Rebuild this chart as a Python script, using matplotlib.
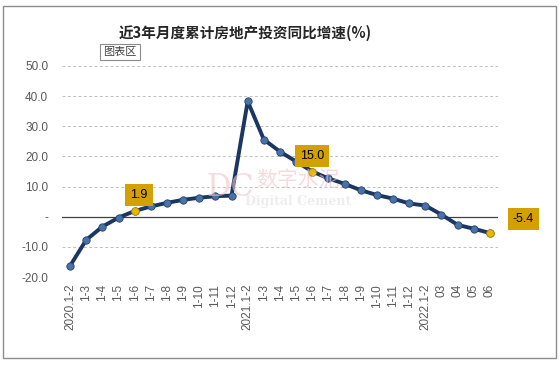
import matplotlib
matplotlib.use('Agg')
import matplotlib.pyplot as plt
from matplotlib.patches import Rectangle

plt.rcParams['font.family'] = ['Liberation Sans', 'Noto Sans CJK SC', 'DejaVu Sans']

labels = ['2020.1-2', '1-3', '1-4', '1-5', '1-6', '1-7', '1-8', '1-9', '1-10', '1-11', '1-12',
          '2021.1-2', '1-3', '1-4', '1-5', '1-6', '1-7', '1-8', '1-9', '1-10', '1-11', '1-12',
          '2022.1-2', '03', '04', '05', '06']
values = [-16.3, -7.7, -3.3, -0.3, 1.9, 3.4, 4.6, 5.6, 6.3, 6.8, 7.0,
          38.3, 25.6, 21.6, 18.3, 15.0, 12.7, 10.9, 8.8, 7.2, 6.0, 4.4,
          3.7, 0.7, -2.7, -4.0, -5.4]
highlight = [4, 15, 26]
yticks = [-20, -10, 0, 10, 20, 30, 40, 50]
ytick_labels = ['-20.0', '-10.0', '-', '10.0', '20.0', '30.0', '40.0', '50.0']

fig = plt.figure(figsize=(5.6, 3.67), dpi=100)
fig.patches.append(Rectangle((0.006, 0.025), 0.986, 0.96, transform=fig.transFigure,
                             fill=False, edgecolor='#8c8c8c', linewidth=1.0))

ax = fig.add_axes([62 / 560, 1 - 277 / 367, 436 / 560, 211 / 367])
x = list(range(len(values)))

for y in yticks:
  if y == 0:
    ax.axhline(0, color='#404040', linewidth=0.9, zorder=1)
  else:
    ax.axhline(y, color='#c0c0c0', linewidth=0.7, linestyle=(0, (3, 2.5)), zorder=1)

ax.plot(x, values, color='#1b3660', linewidth=2.8, zorder=2,
        solid_joinstyle='round')
ax.scatter(x, values, s=28, color='#4a72a8', edgecolors='#24406e', linewidths=0.6, zorder=3)
hx = [x[i] for i in highlight]
hy = [values[i] for i in highlight]
ax.scatter(hx, hy, s=30, color='#e6b800', edgecolors='#b08a00', linewidths=0.6, zorder=4)

offsets = {4: (3, 7), 15: (0, 7), 26: (24, 6)}
for i in highlight:
  dx, dy = offsets[i]
  ax.annotate('%.1f' % values[i], (x[i], values[i]), xytext=(dx, dy),
              textcoords='offset points', ha='center', va='bottom', fontsize=9, color='black',
              bbox=dict(boxstyle='square,pad=0.4', fc='#d4a000', ec='none'), zorder=5)

ax.set_xlim(-0.5, len(values) - 0.5)
ax.set_ylim(-20, 50)
ax.set_yticks(yticks)
ax.set_yticklabels(ytick_labels)
ax.set_xticks(x)
ax.set_xticklabels(labels, rotation=90)
ax.tick_params(axis='both', length=0, labelsize=8.5, colors='#595959')
ax.tick_params(axis='x', pad=5)
ax.tick_params(axis='y', pad=10)
for s in ax.spines.values():
  s.set_visible(False)

# title
fig.text(245 / 560, 1 - 33 / 367, '近3年月度累计房地产投资同比增速(%)', ha='center', va='center',
         fontsize=10.5, fontweight='bold', color='#262626',
         family=['Noto Sans CJK SC', 'DejaVu Sans'])

# chart area tooltip
fig.text(120 / 560, 1 - 52 / 367, '图表区', ha='center', va='center', fontsize=8, color='#404040',
         family=['Noto Sans CJK SC', 'DejaVu Sans'],
         bbox=dict(boxstyle='square,pad=0.3', fc='white', ec='#8c8c8c', lw=0.8))

# watermark
fig.text(230 / 560, 1 - 188 / 367, 'DC', ha='center', va='center', fontsize=22, color='#eec4c8',
         alpha=0.6, family='DejaVu Serif')
fig.text(298 / 560, 1 - 180 / 367, '数字水泥', ha='center', va='center', fontsize=15, color='#eec4c8',
         alpha=0.6, family=['Noto Sans CJK SC', 'DejaVu Sans'])
fig.text(298 / 560, 1 - 201 / 367, 'Digital Cement', ha='center', va='center', fontsize=9,
         color='#e6e6e6', alpha=0.7, family='DejaVu Serif', fontweight='bold')

plt.savefig('out.png', dpi=100)
